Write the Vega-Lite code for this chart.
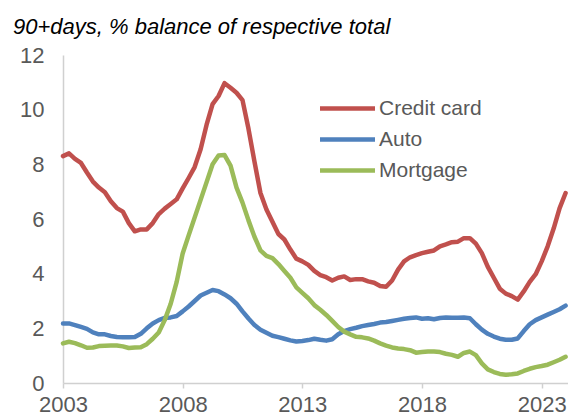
{
  "$schema": "https://vega.github.io/schema/vega-lite/v6.json",
  "autosize": "none",
  "width": 505,
  "height": 328,
  "padding": {"left": 63, "top": 55, "right": 0, "bottom": 34},
  "background": "white",
  "title": {
    "text": "90+days, % balance of respective total",
    "font": "Liberation Sans",
    "fontSize": 22,
    "fontStyle": "italic",
    "fontWeight": "normal",
    "color": "#000000",
    "anchor": "start",
    "frame": "group",
    "baseline": "alphabetic",
    "dx": -50,
    "dy": 26,
    "offset": 14
  },
  "config": {
    "view": {"stroke": null},
    "font": "Liberation Sans"
  },
  "data": {
    "values": [
      {"t": 2003.00, "Credit card": 8.30, "Auto": 2.18, "Mortgage": 1.45},
      {"t": 2003.25, "Credit card": 8.40, "Auto": 2.18, "Mortgage": 1.51},
      {"t": 2003.50, "Credit card": 8.20, "Auto": 2.12, "Mortgage": 1.46},
      {"t": 2003.75, "Credit card": 8.05, "Auto": 2.05, "Mortgage": 1.38},
      {"t": 2004.00, "Credit card": 7.70, "Auto": 1.98, "Mortgage": 1.29},
      {"t": 2004.25, "Credit card": 7.37, "Auto": 1.85, "Mortgage": 1.30},
      {"t": 2004.50, "Credit card": 7.15, "Auto": 1.78, "Mortgage": 1.35},
      {"t": 2004.75, "Credit card": 6.98, "Auto": 1.78, "Mortgage": 1.36},
      {"t": 2005.00, "Credit card": 6.65, "Auto": 1.72, "Mortgage": 1.37},
      {"t": 2005.25, "Credit card": 6.40, "Auto": 1.68, "Mortgage": 1.37},
      {"t": 2005.50, "Credit card": 6.27, "Auto": 1.67, "Mortgage": 1.34},
      {"t": 2005.75, "Credit card": 5.85, "Auto": 1.67, "Mortgage": 1.28},
      {"t": 2006.00, "Credit card": 5.55, "Auto": 1.68, "Mortgage": 1.30},
      {"t": 2006.25, "Credit card": 5.62, "Auto": 1.80, "Mortgage": 1.31},
      {"t": 2006.50, "Credit card": 5.62, "Auto": 2.00, "Mortgage": 1.42},
      {"t": 2006.75, "Credit card": 5.85, "Auto": 2.18, "Mortgage": 1.62},
      {"t": 2007.00, "Credit card": 6.18, "Auto": 2.30, "Mortgage": 1.85},
      {"t": 2007.25, "Credit card": 6.38, "Auto": 2.38, "Mortgage": 2.30},
      {"t": 2007.50, "Credit card": 6.55, "Auto": 2.40, "Mortgage": 2.90},
      {"t": 2007.75, "Credit card": 6.72, "Auto": 2.45, "Mortgage": 3.70},
      {"t": 2008.00, "Credit card": 7.12, "Auto": 2.62, "Mortgage": 4.74},
      {"t": 2008.25, "Credit card": 7.50, "Auto": 2.80, "Mortgage": 5.40},
      {"t": 2008.50, "Credit card": 7.90, "Auto": 3.00, "Mortgage": 6.05},
      {"t": 2008.75, "Credit card": 8.55, "Auto": 3.20, "Mortgage": 6.70},
      {"t": 2009.00, "Credit card": 9.45, "Auto": 3.30, "Mortgage": 7.35},
      {"t": 2009.25, "Credit card": 10.20, "Auto": 3.40, "Mortgage": 8.00},
      {"t": 2009.50, "Credit card": 10.50, "Auto": 3.36, "Mortgage": 8.32},
      {"t": 2009.75, "Credit card": 10.97, "Auto": 3.24, "Mortgage": 8.34},
      {"t": 2010.00, "Credit card": 10.80, "Auto": 3.10, "Mortgage": 7.95},
      {"t": 2010.25, "Credit card": 10.62, "Auto": 2.90, "Mortgage": 7.15},
      {"t": 2010.50, "Credit card": 10.35, "Auto": 2.62, "Mortgage": 6.60},
      {"t": 2010.75, "Credit card": 9.30, "Auto": 2.36, "Mortgage": 5.95},
      {"t": 2011.00, "Credit card": 8.10, "Auto": 2.12, "Mortgage": 5.35},
      {"t": 2011.25, "Credit card": 6.95, "Auto": 1.95, "Mortgage": 4.85},
      {"t": 2011.50, "Credit card": 6.35, "Auto": 1.84, "Mortgage": 4.65},
      {"t": 2011.75, "Credit card": 5.90, "Auto": 1.73, "Mortgage": 4.57},
      {"t": 2012.00, "Credit card": 5.45, "Auto": 1.68, "Mortgage": 4.35},
      {"t": 2012.25, "Credit card": 5.25, "Auto": 1.62, "Mortgage": 4.10},
      {"t": 2012.50, "Credit card": 4.88, "Auto": 1.56, "Mortgage": 3.85},
      {"t": 2012.75, "Credit card": 4.55, "Auto": 1.52, "Mortgage": 3.50},
      {"t": 2013.00, "Credit card": 4.45, "Auto": 1.54, "Mortgage": 3.30},
      {"t": 2013.25, "Credit card": 4.32, "Auto": 1.57, "Mortgage": 3.10},
      {"t": 2013.50, "Credit card": 4.10, "Auto": 1.62, "Mortgage": 2.85},
      {"t": 2013.75, "Credit card": 3.95, "Auto": 1.58, "Mortgage": 2.68},
      {"t": 2014.00, "Credit card": 3.87, "Auto": 1.55, "Mortgage": 2.49},
      {"t": 2014.25, "Credit card": 3.75, "Auto": 1.60, "Mortgage": 2.27},
      {"t": 2014.50, "Credit card": 3.85, "Auto": 1.78, "Mortgage": 2.05},
      {"t": 2014.75, "Credit card": 3.90, "Auto": 1.90, "Mortgage": 1.88},
      {"t": 2015.00, "Credit card": 3.77, "Auto": 1.97, "Mortgage": 1.78},
      {"t": 2015.25, "Credit card": 3.80, "Auto": 2.02, "Mortgage": 1.69},
      {"t": 2015.50, "Credit card": 3.80, "Auto": 2.08, "Mortgage": 1.67},
      {"t": 2015.75, "Credit card": 3.72, "Auto": 2.12, "Mortgage": 1.63},
      {"t": 2016.00, "Credit card": 3.67, "Auto": 2.16, "Mortgage": 1.55},
      {"t": 2016.25, "Credit card": 3.55, "Auto": 2.21, "Mortgage": 1.45},
      {"t": 2016.50, "Credit card": 3.52, "Auto": 2.23, "Mortgage": 1.37},
      {"t": 2016.75, "Credit card": 3.75, "Auto": 2.27, "Mortgage": 1.30},
      {"t": 2017.00, "Credit card": 4.15, "Auto": 2.31, "Mortgage": 1.26},
      {"t": 2017.25, "Credit card": 4.45, "Auto": 2.35, "Mortgage": 1.24},
      {"t": 2017.50, "Credit card": 4.60, "Auto": 2.38, "Mortgage": 1.20},
      {"t": 2017.75, "Credit card": 4.68, "Auto": 2.40, "Mortgage": 1.11},
      {"t": 2018.00, "Credit card": 4.75, "Auto": 2.35, "Mortgage": 1.13},
      {"t": 2018.25, "Credit card": 4.80, "Auto": 2.37, "Mortgage": 1.15},
      {"t": 2018.50, "Credit card": 4.85, "Auto": 2.33, "Mortgage": 1.15},
      {"t": 2018.75, "Credit card": 5.00, "Auto": 2.38, "Mortgage": 1.13},
      {"t": 2019.00, "Credit card": 5.07, "Auto": 2.40, "Mortgage": 1.07},
      {"t": 2019.25, "Credit card": 5.15, "Auto": 2.39, "Mortgage": 1.03},
      {"t": 2019.50, "Credit card": 5.17, "Auto": 2.39, "Mortgage": 0.96},
      {"t": 2019.75, "Credit card": 5.30, "Auto": 2.40, "Mortgage": 1.10},
      {"t": 2020.00, "Credit card": 5.30, "Auto": 2.37, "Mortgage": 1.15},
      {"t": 2020.25, "Credit card": 5.10, "Auto": 2.15, "Mortgage": 1.02},
      {"t": 2020.50, "Credit card": 4.75, "Auto": 1.95, "Mortgage": 0.72},
      {"t": 2020.75, "Credit card": 4.25, "Auto": 1.80, "Mortgage": 0.50},
      {"t": 2021.00, "Credit card": 3.85, "Auto": 1.70, "Mortgage": 0.40},
      {"t": 2021.25, "Credit card": 3.45, "Auto": 1.62, "Mortgage": 0.33},
      {"t": 2021.50, "Credit card": 3.27, "Auto": 1.58, "Mortgage": 0.30},
      {"t": 2021.75, "Credit card": 3.18, "Auto": 1.58, "Mortgage": 0.32},
      {"t": 2022.00, "Credit card": 3.05, "Auto": 1.63, "Mortgage": 0.35},
      {"t": 2022.25, "Credit card": 3.35, "Auto": 1.90, "Mortgage": 0.44},
      {"t": 2022.50, "Credit card": 3.70, "Auto": 2.15, "Mortgage": 0.52},
      {"t": 2022.75, "Credit card": 3.98, "Auto": 2.30, "Mortgage": 0.58},
      {"t": 2023.00, "Credit card": 4.45, "Auto": 2.40, "Mortgage": 0.62},
      {"t": 2023.25, "Credit card": 5.00, "Auto": 2.50, "Mortgage": 0.67},
      {"t": 2023.50, "Credit card": 5.65, "Auto": 2.60, "Mortgage": 0.76},
      {"t": 2023.75, "Credit card": 6.40, "Auto": 2.70, "Mortgage": 0.85},
      {"t": 2024.00, "Credit card": 6.95, "Auto": 2.83, "Mortgage": 0.96}
    ]
  },
  "transform": [
    {"fold": ["Credit card", "Auto", "Mortgage"], "as": ["series", "value"]}
  ],
  "mark": {"type": "line", "strokeWidth": 4.5, "strokeCap": "round", "strokeJoin": "round"},
  "encoding": {
    "x": {
      "field": "t",
      "type": "quantitative",
      "scale": {"domain": [2003, 2024.1], "nice": false, "zero": false},
      "axis": {
        "title": null,
        "values": [2003, 2008, 2013, 2018, 2023],
        "format": "d",
        "grid": false,
        "domainColor": "#D0D0D0",
        "domainWidth": 1.5,
        "tickColor": "#D0D0D0",
        "tickWidth": 1.5,
        "tickSize": 5,
        "labelFont": "Liberation Sans",
        "labelFontSize": 22,
        "labelColor": "#595959",
        "labelPadding": 6,
        "labelFlush": false,
        "labelOverlap": false
      }
    },
    "y": {
      "field": "value",
      "type": "quantitative",
      "scale": {"domain": [0, 12], "nice": false},
      "axis": {
        "title": null,
        "values": [0, 2, 4, 6, 8, 10, 12],
        "grid": false,
        "ticks": false,
        "tickSize": 0,
        "domainColor": "#D0D0D0",
        "domainWidth": 1.5,
        "labelFont": "Liberation Sans",
        "labelFontSize": 22,
        "labelColor": "#595959",
        "labelPadding": 19
      }
    },
    "color": {
      "field": "series",
      "type": "nominal",
      "sort": ["Credit card", "Auto", "Mortgage"],
      "scale": {"domain": ["Credit card", "Auto", "Mortgage"], "range": ["#C0504D", "#4F81BD", "#9BBB59"]},
      "legend": {
        "title": null,
        "orient": "none",
        "legendX": 272,
        "legendY": 41,
        "padding": 0,
        "symbolType": "M-2.75,0H2.75",
        "symbolSize": 400,
        "symbolStrokeWidth": 4.5,
        "symbolStrokeCap": "round",
        "labelFont": "Liberation Sans",
        "labelFontSize": 21,
        "labelColor": "#595959",
        "labelOffset": 19,
        "rowPadding": 8
      }
    }
  }
}
